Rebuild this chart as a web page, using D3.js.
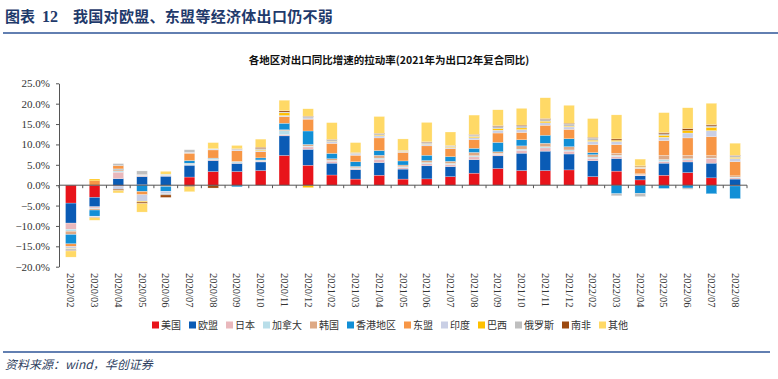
<!DOCTYPE html>
<html><head><meta charset="utf-8">
<script src="https://cdn.jsdelivr.net/npm/d3@7"></script>
<style>
html,body{margin:0;padding:0;background:#fff;}
svg{display:block;}
</style></head>
<body>
<svg id="c" width="778" height="379"></svg>
<script>
const categories = ["2020/02","2020/03","2020/04","2020/05","2020/06","2020/07","2020/08","2020/09","2020/10","2020/11","2020/12","2021/02","2021/03","2021/04","2021/05","2021/06","2021/07","2021/08","2021/09","2021/10","2021/11","2021/12","2022/02","2022/03","2022/04","2022/05","2022/06","2022/07","2022/08"];
const seriesNames = ["美国","欧盟","日本","加拿大","韩国","香港地区","东盟","印度","巴西","俄罗斯","南非","其他"];
const seriesColors = ["#E8141B","#0A5BB5","#E9B8BC","#B9DEE9","#DEA984","#128FD6","#F79646","#C9CFE5","#FFC000","#BFBFBF","#9C4A10","#FFD966"];
const yTicks = [-20,-15,-10,-5,0,5,10,15,20,25];

// rows: one per month, values in series order (%)
const v_202002 = [-4.4,-4.9,-1.5,-0.5,-0.8,-2.3,-0.65,-0.5,-0.1,-0.4,-0.1,-1.5];
const v_202003 = [-3.0,-2.3,-0.3,-0.2,-0.3,-1.5,1.1,-0.2,0.4,-0.1,-0.1,-0.6];
const v_202004 = [-0.2,1.6,1.6,0.3,0.4,0.1,0.8,-0.8,0.0,0.5,-0.3,-0.6];
const v_202005 = [0.1,2.0,0.3,0.1,0.1,-1.55,-0.8,-1.6,-0.2,0.9,-0.35,-2.1];
const v_202006 = [0.0,2.2,0.2,0.3,-0.3,-1.2,0.0,-0.6,0.0,-0.3,-0.6,0.7];
const v_202007 = [2.0,2.9,0.1,0.3,0.1,0.65,1.8,0.2,0.0,0.65,-0.4,-1.2];
const v_202008 = [3.35,2.7,0.2,0.2,0.1,0.1,2.0,0.2,0.0,0.1,-0.7,1.5];
const v_202009 = [3.35,2.0,0.1,0.3,0.1,-0.4,2.6,0.2,0.0,0.2,0.1,0.8];
const v_202010 = [3.6,2.1,0.2,0.2,0.1,0.5,1.5,0.3,0.2,0.3,0.3,2.0];
const v_202011 = [7.3,4.8,0.3,1.0,0.2,1.6,1.6,0.3,0.65,0.2,0.3,2.6];
const v_202012 = [4.9,3.9,0.6,0.2,0.4,3.3,2.9,0.3,-0.6,0.35,0.1,1.8];
const v_202102 = [2.5,2.9,0.5,0.2,0.4,1.3,2.45,0.4,0.1,0.4,0.1,4.1];
const v_202103 = [1.5,2.3,0.3,0.2,0.3,1.15,1.6,0.3,0.1,0.15,0.1,2.45];
const v_202104 = [2.45,3.1,0.8,0.3,0.7,1.15,3.1,0.5,0.2,0.3,0.15,4.1];
const v_202105 = [1.5,2.45,0.4,0.2,0.4,1.0,2.1,0.2,0.1,0.15,0.05,2.8];
const v_202106 = [1.55,3.2,0.5,0.3,0.5,1.3,2.3,0.4,0.1,0.35,0.15,4.75];
const v_202107 = [2.1,2.45,0.5,0.3,0.5,1.15,1.95,0.3,0.2,0.2,0.1,3.3];
const v_202108 = [2.95,3.3,0.7,0.3,0.8,1.0,2.1,0.5,0.3,0.35,0.15,4.75];
const v_202109 = [4.1,3.1,0.4,0.2,0.4,2.3,2.3,0.7,0.4,0.5,0.2,3.9];
const v_202110 = [3.6,4.25,0.7,0.3,0.8,1.5,1.8,0.7,0.4,0.5,0.2,4.1];
const v_202111 = [3.6,4.75,0.8,0.3,0.85,1.95,2.45,0.6,0.4,0.45,0.2,5.1];
const v_202112 = [3.75,3.9,0.7,0.3,0.8,1.95,2.3,0.6,0.2,0.5,0.2,4.4];
const v_202202 = [2.1,3.9,0.6,0.3,0.6,0.5,1.95,0.8,0.3,0.5,0.2,4.6];
const v_202203 = [3.45,3.1,0.5,0.3,0.5,-2.1,2.1,0.8,0.3,-0.5,0.3,5.9];
const v_202204 = [1.3,1.0,0.2,0.1,0.2,-2.0,1.3,0.3,0.2,-0.8,0.15,1.65];
const v_202205 = [2.45,2.95,0.4,0.5,1.05,-0.8,3.6,0.8,0.5,0.35,0.3,4.9];
const v_202206 = [3.1,2.6,0.5,0.3,0.85,-0.7,4.25,1.2,0.65,-0.3,0.45,5.1];
const v_202207 = [1.8,3.6,1.15,0.1,0.65,-2.1,4.6,1.5,0.8,0.35,0.3,5.25];
const v_202208 = [-0.2,1.5,0.3,0.2,0.3,-3.1,3.45,0.8,0.3,0.35,0.15,2.95];

const rows = [v_202002,v_202003,v_202004,v_202005,v_202006,v_202007,v_202008,v_202009,v_202010,v_202011,v_202012,v_202102,v_202103,v_202104,v_202105,v_202106,v_202107,v_202108,v_202109,v_202110,v_202111,v_202112,v_202202,v_202203,v_202204,v_202205,v_202206,v_202207,v_202208];

const table = categories.map((c,i)=>{
  const o = {cat:c};
  seriesNames.forEach((s,j)=>o[s]=rows[i][j]);
  return o;
});

const svg = d3.select("#c");
const serif = "'Liberation Serif','Times New Roman',serif";
const cjk = "'Noto Sans CJK SC','Noto Sans',sans-serif";
const navy = "#1F3A6B";

// header
const hdr = svg.append("g").attr("font-weight",700).attr("fill",navy);
hdr.append("text").attr("x",5).attr("y",22).attr("font-family",cjk).attr("font-size",15).text("图表");
hdr.append("text").attr("x",42).attr("y",22).attr("font-family",serif).attr("font-size",16).text("12");
hdr.append("text").attr("x",73).attr("y",22).attr("font-family",cjk).attr("font-size",15).attr("letter-spacing",0.3).text("我国对欧盟、东盟等经济体出口仍不弱");
svg.append("line").attr("x1",3).attr("x2",778).attr("y1",33).attr("y2",33)
  .attr("stroke","#2E5597").attr("stroke-width",1.6);

svg.append("text").attr("x",389).attr("y",64).attr("text-anchor","middle")
  .attr("font-family",cjk).attr("font-weight",700).attr("font-size",10.5).attr("fill","#111")
  .text("各地区对出口同比增速的拉动率(2021年为出口2年复合同比)");

// scales
const x0 = 59, x1 = 747;
const x = d3.scaleBand().domain(categories).range([x0,x1]).paddingInner(0.55).paddingOuter(0.275);
const y = d3.scaleLinear().domain([-20,25]).range([266.7,83.3]);

const stack = d3.stack().keys(seriesNames).offset(d3.stackOffsetDiverging);
const stacked = stack(table);

const g = svg.append("g");
stacked.forEach((layer,li)=>{
  g.append("g").attr("fill",seriesColors[li])
    .selectAll("rect").data(layer).join("rect")
    .attr("x",d=>x(d.data.cat))
    .attr("width",x.bandwidth())
    .attr("y",d=>y(Math.max(d[0],d[1])))
    .attr("height",d=>Math.abs(y(d[0])-y(d[1])))
    .attr("stroke","#fff").attr("stroke-width",0.4).attr("stroke-opacity",0.6);
});

// y axis
const yAxis = d3.axisLeft(y).tickValues(yTicks).tickSize(3).tickSizeOuter(0)
  .tickFormat(d=>d3.format(".1f")(d)+"%");
const ya = svg.append("g").attr("transform",`translate(${x0},0)`).call(yAxis);
ya.select(".domain").attr("stroke","#555");
ya.selectAll(".tick line").attr("stroke","#555");
ya.selectAll(".tick text").attr("font-family",serif).attr("font-size",11).attr("fill","#333").attr("x",-9);

// x axis at zero
const step = x.step();
const xa = svg.append("g").attr("transform",`translate(0,${y(0)})`);
xa.append("line").attr("x1",x0).attr("x2",x1).attr("stroke","#555").attr("stroke-width",1);
xa.selectAll("line.tk").data(d3.range(categories.length+1)).join("line").attr("class","tk")
  .attr("x1",i=>x0+i*step).attr("x2",i=>x0+i*step).attr("y1",0).attr("y2",3).attr("stroke","#555");

// x labels
svg.append("g").selectAll("text").data(categories).join("text")
  .attr("transform",d=>`translate(${x(d)+x.bandwidth()/2-3.5},273) rotate(90)`)
  .attr("font-family",serif).attr("font-size",10.5).attr("fill","#333")
  .text(d=>d);

// legend
const lg = svg.append("g").attr("transform","translate(152,325)");
let lx = 0;
seriesNames.forEach((s,i)=>{
  const it = lg.append("g").attr("transform",`translate(${lx},0)`);
  it.append("rect").attr("x",0).attr("y",-3.5).attr("width",7).attr("height",7).attr("fill",seriesColors[i]);
  it.append("text").attr("x",9).attr("y",3.8).attr("font-family",cjk).attr("font-size",10).attr("fill","#333").text(s);
  lx += 7 + 2 + s.length*10 + 8;
});

// footer
svg.append("line").attr("x1",3).attr("x2",770).attr("y1",352).attr("y2",352)
  .attr("stroke","#2E5597").attr("stroke-width",1.6);
svg.append("text").attr("x",5).attr("y",369)
  .attr("font-family",cjk).attr("font-style","italic").attr("font-size",12).attr("fill","#2F3F5F")
  .text("资料来源：wind，华创证券");
</script>
</body></html>
